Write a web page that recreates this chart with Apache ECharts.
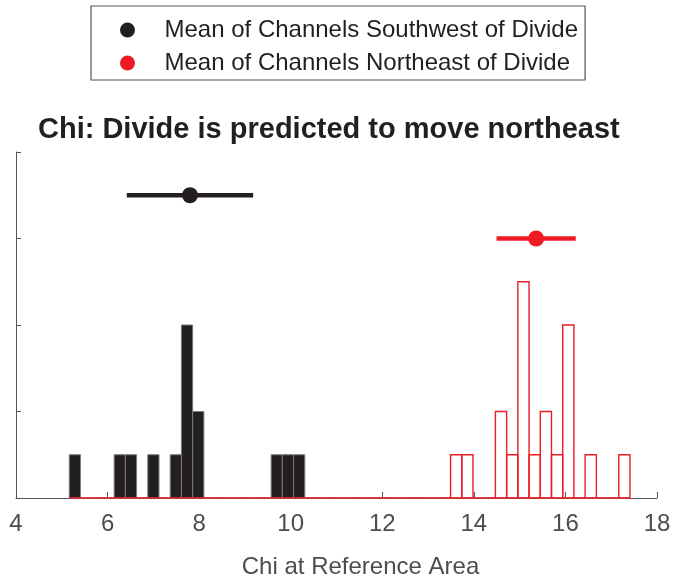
<!DOCTYPE html>
<html>
<head>
<meta charset="utf-8">
<script src="https://cdn.jsdelivr.net/npm/echarts@6/dist/echarts.min.js"></script>
<style>html,body{margin:0;padding:0;background:#fff}#c{width:678px;height:586px}</style>
</head>
<body>
<div id="c"></div>
<script>
// Histogram bins (common bin grid for both groups)
const binLow = 5.164;
const binHigh = 17.41;
const nBins = 50;
// Counts per bin, southwest channels (black)
const swCounts = [1,0,0,0,1,1,0,1,0,1, 4,2,0,0,0,0,0,0,1,1, 1,0,0,0,0,0,0,0,0,0, 0,0,0,0,0,0,0,0,0,0, 0,0,0,0,0,0,0,0,0,0];
// Counts per bin, northeast channels (red)
const neCounts = [0,0,0,0,0,0,0,0,0,0, 0,0,0,0,0,0,0,0,0,0, 0,0,0,0,0,0,0,0,0,0, 0,0,0,0,1,1,0,0,2,1, 5,1,2,1,4,0,1,0,0,1];
// Means and spread (error bar half-widths)
const swMean = 7.80, swSpread = 1.38, swLevel = 7;
const neMean = 15.36, neSpread = 0.865, neLevel = 6;
const xTicks = [4, 6, 8, 10, 12, 14, 16, 18];
const swName = 'Mean of Channels Southwest of Divide';
const neName = 'Mean of Channels Northeast of Divide';

const BLACK = '#231f20', RED = '#ed1c24', AX = '#555555';
const FONT = 'Liberation Sans, Arial, Helvetica, sans-serif';
const binW = (binHigh - binLow) / nBins;
function histData(counts) {
  return counts.map((c, i) => [binLow + i * binW, binLow + (i + 1) * binW, c]);
}
function histSeries(counts, fill, stroke, lw, z) {
  return {
    type: 'custom', z: z, silent: true,
    data: histData(counts),
    encode: { x: [0, 1], y: 2 },
    renderItem: function (params, api) {
      const p0 = api.coord([api.value(0), 0]);
      const p1 = api.coord([api.value(1), api.value(2)]);
      return {
        type: 'rect',
        shape: { x: p0[0], y: p1[1], width: p1[0] - p0[0], height: p0[1] - p1[1] },
        style: { fill: fill, stroke: stroke, lineWidth: lw }
      };
    }
  };
}

const chart = echarts.init(document.getElementById('c'), null, { renderer: 'canvas' });
chart.setOption({
  animation: false,
  backgroundColor: '#fff',
  title: {
    text: 'Chi: Divide is predicted to move northeast',
    left: 38, top: 115, padding: 0,
    textStyle: { fontFamily: FONT, fontWeight: 'bold', fontSize: 29, color: BLACK }
  },
  legend: {
    data: [{ name: swName, icon: 'circle' }, { name: neName, icon: 'circle' }],
    orient: 'vertical', left: 91, top: 6,
    itemWidth: 64, itemHeight: 15, itemGap: 9,
    padding: [12, 7, 5, 29],
    borderColor: '#555', borderWidth: 1.2, borderRadius: 0,
    textStyle: { fontFamily: FONT, fontSize: 24, color: BLACK }
  },
  grid: { left: 16, right: 21, top: 152, bottom: 88, containLabel: false },
  xAxis: {
    type: 'value', min: 4, max: 18, interval: 2,
    name: 'Chi at Reference Area', nameLocation: 'middle', nameGap: 57,
    nameTextStyle: { fontFamily: FONT, fontSize: 24, color: '#4d4d4d', padding: [0, 0, 0, 48] },
    axisLine: { show: true, lineStyle: { color: AX, width: 1 } },
    axisTick: { show: true, inside: true, length: 6, lineStyle: { color: AX } },
    axisLabel: { fontFamily: FONT, fontSize: 24, color: '#4d4d4d', margin: 14,
      formatter: v => (xTicks.indexOf(v) >= 0 ? String(v) : '') },
    splitLine: { show: false }
  },
  yAxis: {
    type: 'value', min: 0, max: 8, interval: 2,
    axisLine: { show: true, lineStyle: { color: AX, width: 1 } },
    axisTick: { show: true, inside: true, length: 5, lineStyle: { color: AX } },
    axisLabel: { show: false },
    splitLine: { show: false }
  },
  series: [
    histSeries(swCounts, BLACK, '#7a7a7a', 1, 2),
    histSeries(neCounts, 'rgba(0,0,0,0)', RED, 1.4, 3),
    {
      type: 'line', silent: true, z: 4, symbol: 'none',
      data: [[swMean - swSpread, swLevel], [swMean + swSpread, swLevel]],
      lineStyle: { color: BLACK, width: 4.5 }
    },
    {
      type: 'line', silent: true, z: 4, symbol: 'none',
      data: [[neMean - neSpread, neLevel], [neMean + neSpread, neLevel]],
      lineStyle: { color: RED, width: 4.5 }
    },
    {
      name: swName, type: 'scatter', z: 5, symbol: 'circle', symbolSize: 16,
      data: [[swMean, swLevel]], itemStyle: { color: BLACK, opacity: 1 }
    },
    {
      name: neName, type: 'scatter', z: 5, symbol: 'circle', symbolSize: 16,
      data: [[neMean, neLevel]], itemStyle: { color: RED, opacity: 1 }
    }
  ]
});
</script>
</body>
</html>
